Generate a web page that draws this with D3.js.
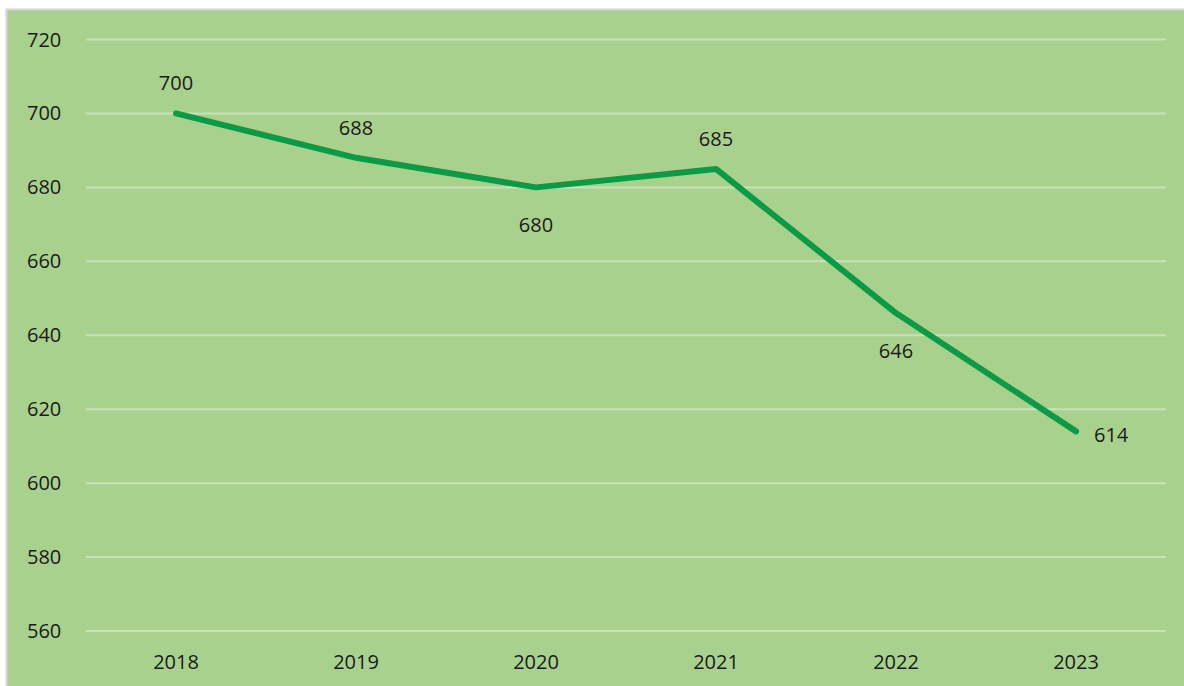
<!DOCTYPE html>
<html>
<head>
<meta charset="utf-8">
<script src="https://cdn.jsdelivr.net/npm/d3@7"></script>
<style>
  body { margin: 0; background: #fff; }
  svg { display: block; font-family: "Open Sans", "Noto Sans", sans-serif; }
</style>
</head>
<body>
<div class="container"></div>
<script>
// chart values
const years = ["2018", "2019", "2020", "2021", "2022", "2023"];
const values = [700, 688, 680, 685, 646, 614];
// where each data label sits relative to its point
const labelPos = ["above", "above", "below", "above", "below", "right"];
const yTicks = [560, 580, 600, 620, 640, 660, 680, 700, 720];

const width = 1184;
const height = 686;
const margin = { top: 40, right: 18, bottom: 55, left: 86 };
const fontSize = 20;

const svg = d3.select(".container")
  .append("svg")
  .attr("width", width)
  .attr("height", height);

// chart area background + border
svg.append("rect")
  .attr("x", 6.5).attr("y", 9.5)
  .attr("width", width).attr("height", height)
  .attr("fill", "#a9d18e")
  .attr("stroke", "#d6d6d6")
  .attr("stroke-width", 2);

const x = d3.scaleBand()
  .domain(years)
  .range([margin.left, width - margin.right]);

const y = d3.scaleLinear()
  .domain([560, 720])
  .range([631, 39.5]);

// gridlines
svg.append("g")
  .selectAll("line")
  .data(yTicks)
  .join("line")
  .attr("x1", margin.left)
  .attr("x2", width - margin.right)
  .attr("y1", (d) => y(d))
  .attr("y2", (d) => y(d))
  .attr("stroke", "#c7e1b8")
  .attr("stroke-width", 2);

// y tick labels
svg.append("g")
  .selectAll("text")
  .data(yTicks)
  .join("text")
  .attr("x", 27)
  .attr("y", (d) => y(d))
  .attr("dy", "0.35em")
  .attr("font-size", fontSize)
  .attr("fill", "#1a1a1a")
  .text((d) => d);

// x tick labels
svg.append("g")
  .selectAll("text")
  .data(years)
  .join("text")
  .attr("x", (d) => x(d) + x.bandwidth() / 2)
  .attr("y", 662)
  .attr("dy", "0.35em")
  .attr("text-anchor", "middle")
  .attr("font-size", fontSize)
  .attr("fill", "#1a1a1a")
  .text((d) => d);

const points = years.map((yr, i) => ({ year: yr, value: values[i], pos: labelPos[i] }));
const cx = (d) => x(d.year) + x.bandwidth() / 2;

const line = d3.line()
  .x(cx)
  .y((d) => y(d.value));

svg.append("path")
  .datum(points)
  .attr("d", line)
  .attr("fill", "none")
  .attr("stroke", "#0c9a46")
  .attr("stroke-width", 6)
  .attr("stroke-linecap", "round")
  .attr("stroke-linejoin", "round");

// data labels
svg.append("g")
  .selectAll("text")
  .data(points)
  .join("text")
  .attr("x", (d) => d.pos === "right" ? cx(d) + 18 : cx(d))
  .attr("y", (d) => {
    if (d.pos === "above") return y(d.value) - 30;
    if (d.pos === "below") return y(d.value) + 38;
    return y(d.value) + 4;
  })
  .attr("dy", "0.35em")
  .attr("text-anchor", (d) => d.pos === "right" ? "start" : "middle")
  .attr("font-size", fontSize)
  .attr("fill", "#1a1a1a")
  .text((d) => d.value);
</script>
</body>
</html>
